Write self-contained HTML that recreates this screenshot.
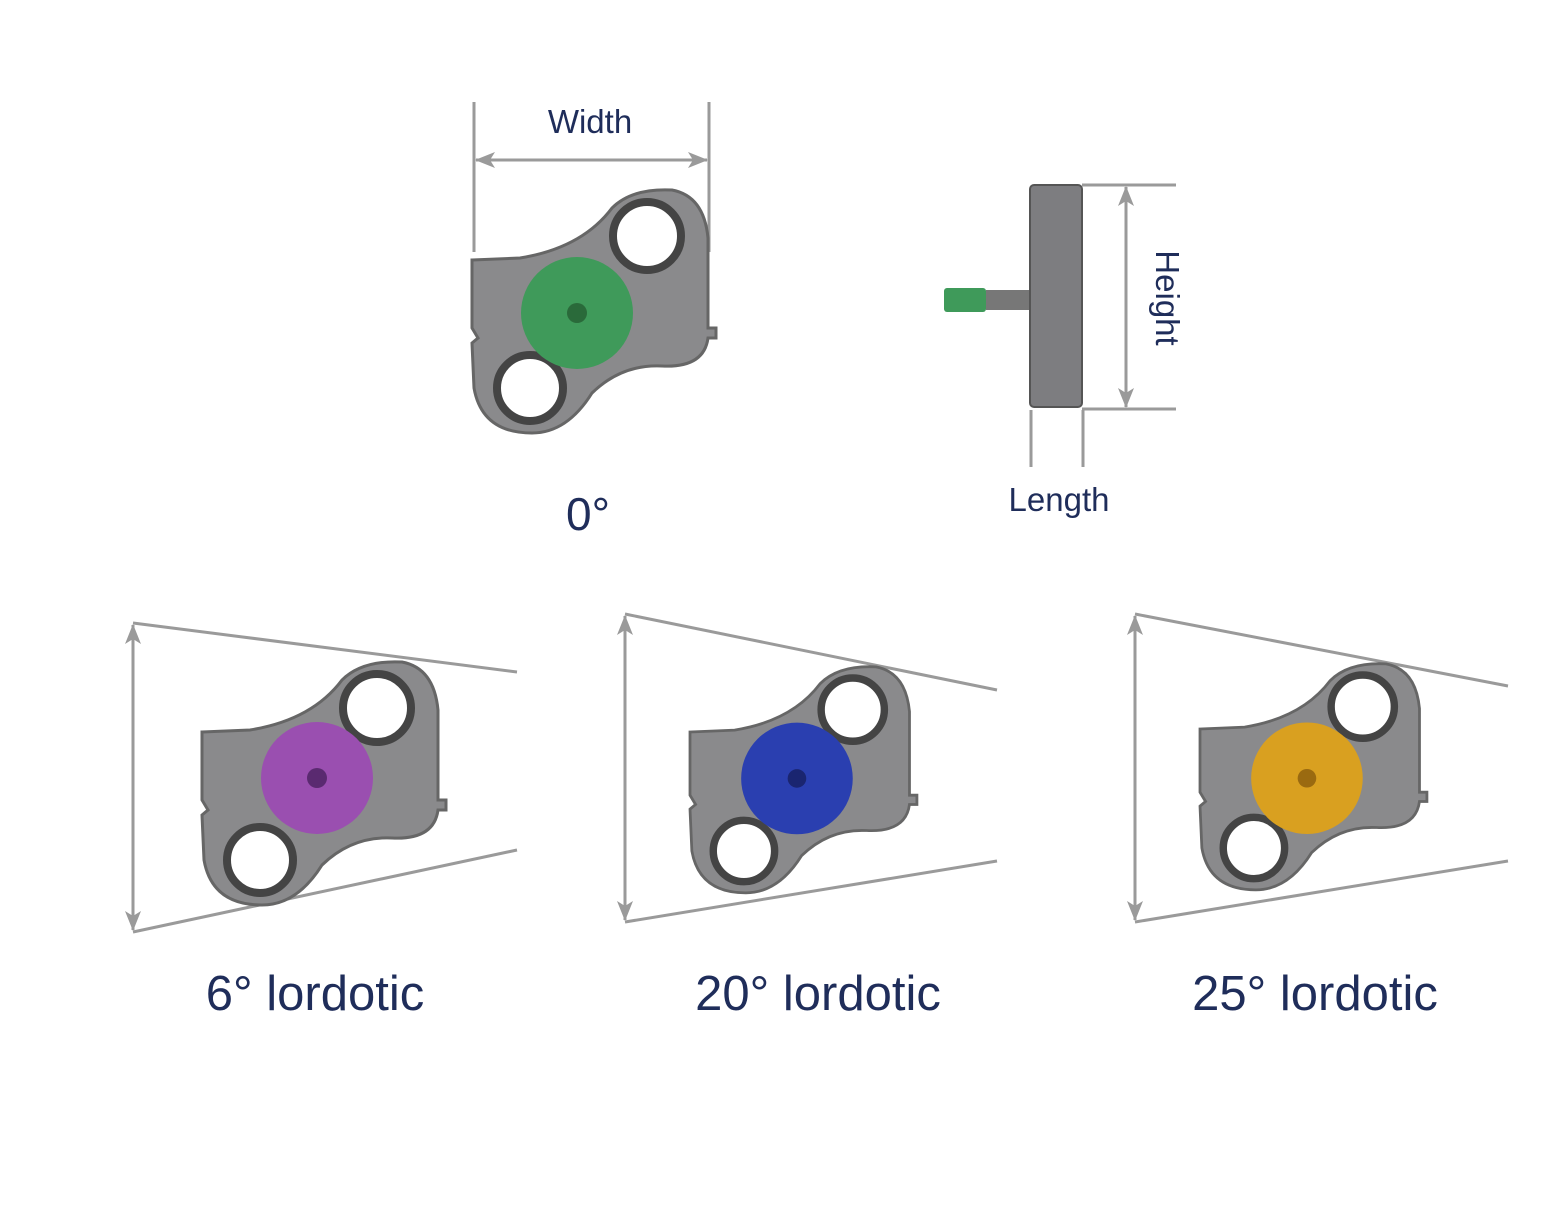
<!DOCTYPE html>
<html><head><meta charset="utf-8"><style>
body{margin:0;background:#fff}
svg{display:block}
text{font-family:"Liberation Sans",sans-serif;fill:#1f2d5a}
</style></head><body>
<svg width="1560" height="1232" viewBox="0 0 1560 1232" xmlns="http://www.w3.org/2000/svg">
<defs>
<marker id="ah" markerWidth="20" markerHeight="16" refX="19" refY="8" orient="auto" markerUnits="userSpaceOnUse" viewBox="0 0 20 16">
<path d="M0,0 L20,8 L0,16 L5,8 z" fill="#9a9a9a"/></marker>
<g id="plate">
<path d="M0,72 L48,70 Q110,60 140,20 Q160,0 200,2 Q232,8 236,50 L236,140 L244,140 L244,150 L236,150 Q232,180 190,178 Q150,176 120,205 Q95,245 60,245 Q10,245 2,200 L0,155 L6,150 L0,140 Z" fill="#8a8a8c" stroke="#666" stroke-width="3"/>
<circle cx="175" cy="48" r="34" fill="#fff" stroke="#444" stroke-width="8"/>
<circle cx="58" cy="200" r="33" fill="#fff" stroke="#444" stroke-width="8"/>
</g>
</defs>

<line x1="474" y1="102" x2="474" y2="252" stroke="#9a9a9a" stroke-width="3"/>
<line x1="709" y1="102" x2="709" y2="252" stroke="#9a9a9a" stroke-width="3"/>
<line x1="560" y1="160" x2="707" y2="160" stroke="#9a9a9a" stroke-width="3" marker-end="url(#ah)"/>
<line x1="620" y1="160" x2="476" y2="160" stroke="#9a9a9a" stroke-width="3" marker-end="url(#ah)"/>
<text x="590" y="133" font-size="33" text-anchor="middle">Width</text>

<g transform="translate(472,188)">
<use href="#plate"/>
<circle cx="105" cy="125" r="56" fill="#3f9a5a"/>
<circle cx="105" cy="125" r="10" fill="#2a6a3a"/>
</g>
<text x="588" y="530" font-size="46" text-anchor="middle">0°</text>

<rect x="944" y="288" width="42" height="24" fill="#3f9a5a" rx="3"/>
<rect x="986" y="290" width="44" height="20" fill="#777"/>
<rect x="1030" y="185" width="52" height="222" rx="4" fill="#7d7d80" stroke="#555" stroke-width="2"/>
<line x1="1082" y1="185" x2="1176" y2="185" stroke="#9a9a9a" stroke-width="3"/>
<line x1="1082" y1="409" x2="1176" y2="409" stroke="#9a9a9a" stroke-width="3"/>
<line x1="1126" y1="300" x2="1126" y2="187" stroke="#9a9a9a" stroke-width="3" marker-end="url(#ah)"/>
<line x1="1126" y1="290" x2="1126" y2="407" stroke="#9a9a9a" stroke-width="3" marker-end="url(#ah)"/>
<text x="1156" y="298" font-size="33" text-anchor="middle" transform="rotate(90 1156 298)">Height</text>
<line x1="1031" y1="410" x2="1031" y2="467" stroke="#9a9a9a" stroke-width="3"/>
<line x1="1083" y1="410" x2="1083" y2="467" stroke="#9a9a9a" stroke-width="3"/>
<text x="1059" y="511" font-size="33" text-anchor="middle">Length</text>

<line x1="133" y1="623" x2="517" y2="672" stroke="#9a9a9a" stroke-width="3"/>
<line x1="133" y1="932" x2="517" y2="850" stroke="#9a9a9a" stroke-width="3"/>
<line x1="133" y1="780" x2="133" y2="625" stroke="#9a9a9a" stroke-width="3" marker-end="url(#ah)"/>
<line x1="133" y1="770" x2="133" y2="930" stroke="#9a9a9a" stroke-width="3" marker-end="url(#ah)"/>
<g transform="translate(202,660)">
<use href="#plate"/>
<circle cx="115" cy="118" r="56" fill="#9a4fb0"/>
<circle cx="115" cy="118" r="10" fill="#5a2a70"/>
</g>
<text x="315" y="1010" font-size="49" text-anchor="middle">6° lordotic</text>

<line x1="625" y1="614" x2="997" y2="690" stroke="#9a9a9a" stroke-width="3"/>
<line x1="625" y1="922" x2="997" y2="861" stroke="#9a9a9a" stroke-width="3"/>
<line x1="625" y1="770" x2="625" y2="616" stroke="#9a9a9a" stroke-width="3" marker-end="url(#ah)"/>
<line x1="625" y1="760" x2="625" y2="920" stroke="#9a9a9a" stroke-width="3" marker-end="url(#ah)"/>
<g transform="translate(690,665) scale(0.93)">
<use href="#plate"/>
<circle cx="115" cy="122" r="60" fill="#2a3fb0"/>
<circle cx="115" cy="122" r="10" fill="#1a2570"/>
</g>
<text x="818" y="1010" font-size="49" text-anchor="middle">20° lordotic</text>

<line x1="1135" y1="614" x2="1508" y2="686" stroke="#9a9a9a" stroke-width="3"/>
<line x1="1135" y1="922" x2="1508" y2="861" stroke="#9a9a9a" stroke-width="3"/>
<line x1="1135" y1="770" x2="1135" y2="616" stroke="#9a9a9a" stroke-width="3" marker-end="url(#ah)"/>
<line x1="1135" y1="760" x2="1135" y2="920" stroke="#9a9a9a" stroke-width="3" marker-end="url(#ah)"/>
<g transform="translate(1200,662) scale(0.93)">
<use href="#plate"/>
<circle cx="115" cy="125" r="60" fill="#d9a020"/>
<circle cx="115" cy="125" r="10" fill="#9a6a10"/>
</g>
<text x="1315" y="1010" font-size="49" text-anchor="middle">25° lordotic</text>
</svg>
</body></html>
